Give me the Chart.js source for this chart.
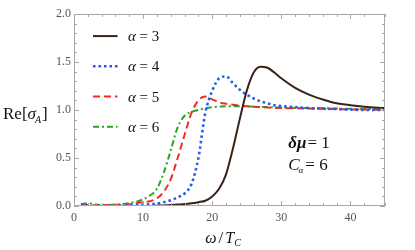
<!DOCTYPE html>
<html>
<head>
<meta charset="utf-8">
<script src="https://cdn.jsdelivr.net/npm/chart.js@4/dist/chart.umd.min.js"></script>
<style>
  html, body { margin: 0; padding: 0; background: #fff; }
  #wrap { width: 415px; height: 250px; position: relative; }
</style>
</head>
<body>
<div id="wrap"><canvas id="chart"></canvas></div>
<script>
// omega / T_C sample points (shared by every curve)
const omega = [1, 2, 3, 4, 6, 8, 9, 10, 11, 12, 13, 14, 15, 16, 17, 18, 19, 20, 21, 22, 23, 24, 25, 26, 27, 28, 29, 30, 32, 34, 36, 38, 40, 42, 45];

// Re[sigma], one array per alpha
const reAlpha3 = [0, 0, 0, 0, 0, 0, 0, 0, 0, 0.003, 0.006, 0.01, 0.015, 0.02, 0.028, 0.04, 0.055, 0.1, 0.18, 0.33, 0.6, 0.91, 1.2, 1.39, 1.45, 1.44, 1.39, 1.33, 1.23, 1.16, 1.11, 1.07, 1.05, 1.035, 1.02];
const reAlpha4 = [0.01, 0.005, 0, 0, 0, 0.005, 0.008, 0.012, 0.018, 0.025, 0.04, 0.06, 0.09, 0.13, 0.23, 0.5, 0.97, 1.2, 1.33, 1.35, 1.28, 1.21, 1.16, 1.12, 1.09, 1.07, 1.05, 1.04, 1.03, 1.02, 1.015, 1.01, 1.005, 1.0, 1.0];
const reAlpha5 = [0.015, 0.01, 0.005, 0.01, 0.01, 0.02, 0.03, 0.04, 0.05, 0.08, 0.15, 0.28, 0.5, 0.74, 0.97, 1.1, 1.14, 1.11, 1.08, 1.065, 1.055, 1.045, 1.04, 1.035, 1.03, 1.025, 1.022, 1.02, 1.018, 1.015, 1.012, 1.01, 1.005, 1.005, 1.0];
const reAlpha6 = [0.02, 0.03, 0.015, 0.01, 0.015, 0.03, 0.045, 0.07, 0.11, 0.18, 0.35, 0.58, 0.82, 0.94, 0.98, 1.0, 1.02, 1.03, 1.035, 1.04, 1.04, 1.04, 1.038, 1.035, 1.033, 1.03, 1.028, 1.025, 1.022, 1.02, 1.018, 1.015, 1.012, 1.01, 1.01];

const alphaLabels = ['3', '4', '5', '6'];
const xTickLabels = [0, 10, 20, 30, 40];
const yTickLabels = [0.0, 0.5, 1.0, 1.5, 2.0];

const SERIF = 'Liberation Serif';
const AXIS_GRAY = '#a8a8a8';
const TICK_TEXT = '#555';
Chart.defaults.font.family = SERIF;

function pts(ys) {
  return omega.map((w, i) => ({ x: w, y: ys[i] }));
}

// ============================================================
// Plugin: frame, inward ticks, titles, legend and labels
// ============================================================
const decor = {
  id: 'decor',
  afterDraw(chart) {
    const ctx = chart.ctx;
    const xs = chart.scales.x, ys = chart.scales.y;
    const a = chart.chartArea;
    ctx.save();

    // frame
    ctx.strokeStyle = AXIS_GRAY;
    ctx.lineWidth = 1;
    ctx.strokeRect(a.left + 0.5, a.top + 0.5, a.right - a.left - 1, a.bottom - a.top - 1);

    // inward tick marks on all four sides
    ctx.beginPath();
    xs.ticks.forEach(t => {
      const px = Math.round(xs.getPixelForValue(t.value)) + 0.5;
      const len = xTickLabels.includes(t.value) ? 5 : 3;
      ctx.moveTo(px, a.bottom); ctx.lineTo(px, a.bottom - len);
      ctx.moveTo(px, a.top);    ctx.lineTo(px, a.top + len);
    });
    ys.ticks.forEach(t => {
      const py = Math.round(ys.getPixelForValue(t.value)) + 0.5;
      const major = Math.abs(t.value * 2 - Math.round(t.value * 2)) < 1e-6;
      const len = major ? 5 : 3;
      ctx.moveTo(a.left, py);  ctx.lineTo(a.left + len, py);
      ctx.moveTo(a.right, py); ctx.lineTo(a.right - len, py);
    });
    ctx.stroke();

    ctx.fillStyle = '#111';
    ctx.textBaseline = 'alphabetic';

    // x axis title: ω/T_C
    let x = xs.getPixelForValue(19);
    let y = 243;
    ctx.font = 'italic 16px ' + SERIF;
    ctx.fillText('ω', x, y); x += ctx.measureText('ω').width + 2;
    ctx.font = '17px ' + SERIF;
    ctx.fillText('/', x, y); x += ctx.measureText('/').width + 2;
    ctx.font = 'italic 16px ' + SERIF;
    ctx.fillText('T', x, y); x += ctx.measureText('T').width;
    ctx.font = 'italic 10px ' + SERIF;
    ctx.fillText('C', x, y + 3);

    // y axis title: Re[σ_A]
    x = 3; y = 119;
    ctx.font = '17px ' + SERIF;
    ctx.fillText('Re[', x, y); x += ctx.measureText('Re[').width;
    ctx.font = 'italic 17px ' + SERIF;
    ctx.fillText('σ', x, y); x += ctx.measureText('σ').width;
    ctx.font = 'italic 10px ' + SERIF;
    ctx.fillText('A', x - 1, y + 4); x += ctx.measureText('A').width;
    ctx.font = '17px ' + SERIF;
    ctx.fillText(']', x, y);

    // legend
    chart.data.datasets.forEach((ds, i) => {
      const ly = ys.getPixelForValue(1.77 - i * 0.315);
      const lx0 = xs.getPixelForValue(2.75), lx1 = xs.getPixelForValue(6.3);
      ctx.strokeStyle = ds.borderColor;
      ctx.lineWidth = ds.borderWidth;
      ctx.setLineDash(ds.borderDash || []);
      ctx.beginPath(); ctx.moveTo(lx0, ly); ctx.lineTo(lx1, ly); ctx.stroke();
      ctx.setLineDash([]);
      let tx = xs.getPixelForValue(7.8);
      ctx.fillStyle = '#111';
      ctx.font = 'italic 15px ' + SERIF;
      ctx.fillText('α', tx, ly + 5); tx += ctx.measureText('α').width;
      ctx.font = '15px ' + SERIF;
      ctx.fillText(' = ' + alphaLabels[i], tx, ly + 5);
    });

    // parameters
    x = xs.getPixelForValue(31.0); y = ys.getPixelForValue(0.6);
    ctx.font = 'bold italic 17px ' + SERIF;
    ctx.fillText('δμ', x, y); x += ctx.measureText('δμ').width + 1;
    ctx.font = '17px ' + SERIF;
    ctx.fillText('= 1', x, y);

    x = xs.getPixelForValue(31.0); y = ys.getPixelForValue(0.38);
    ctx.font = 'italic 17px ' + SERIF;
    ctx.fillText('C', x, y); x += ctx.measureText('C').width;
    ctx.font = 'italic 9px ' + SERIF;
    ctx.fillText('α', x - 1, y + 3); x += ctx.measureText('α').width + 1;
    ctx.font = '17px ' + SERIF;
    ctx.fillText('= 6', x, y);

    ctx.restore();
  }
};

new Chart(document.getElementById('chart'), {
  type: 'line',
  data: {
    datasets: [
      { label: 'α = 3', data: pts(reAlpha3), borderColor: '#3a2216', borderWidth: 2, borderDash: [] },
      { label: 'α = 4', data: pts(reAlpha4), borderColor: '#1f5cf5', borderWidth: 2.6, borderDash: [2.5, 3] },
      { label: 'α = 5', data: pts(reAlpha5), borderColor: '#ec3020', borderWidth: 2, borderDash: [7, 4] },
      { label: 'α = 6', data: pts(reAlpha6), borderColor: '#2aa52a', borderWidth: 2, borderDash: [6, 3, 2, 3] },
    ]
  },
  options: {
    responsive: true,
    maintainAspectRatio: false,
    animation: false,
    layout: { padding: { top: 14, right: 30, left: 0, bottom: 0 } },
    elements: {
      point: { radius: 0 },
      line: { cubicInterpolationMode: 'monotone', fill: false }
    },
    plugins: { legend: { display: false }, tooltip: { enabled: false } },
    scales: {
      x: {
        type: 'linear',
        min: 0, max: 45,
        afterFit: s => { s.height = 44; },
        border: { display: false },
        grid: { display: false, drawTicks: false },
        ticks: {
          stepSize: 2,
          padding: 5,
          maxRotation: 0,
          autoSkip: false,
          color: TICK_TEXT,
          font: { family: SERIF, size: 12 },
          callback: v => xTickLabels.includes(v) ? String(v) : ''
        }
      },
      y: {
        min: 0, max: 2,
        afterFit: s => { s.width = 74; },
        border: { display: false },
        grid: { display: false, drawTicks: false },
        ticks: {
          stepSize: 0.1,
          padding: 3,
          autoSkip: false,
          color: TICK_TEXT,
          font: { family: SERIF, size: 12 },
          callback: v => {
            const hit = yTickLabels.find(t => Math.abs(t - v) < 1e-6);
            return hit !== undefined ? hit.toFixed(1) : '';
          }
        }
      }
    }
  },
  plugins: [decor]
});
</script>
</body>
</html>
